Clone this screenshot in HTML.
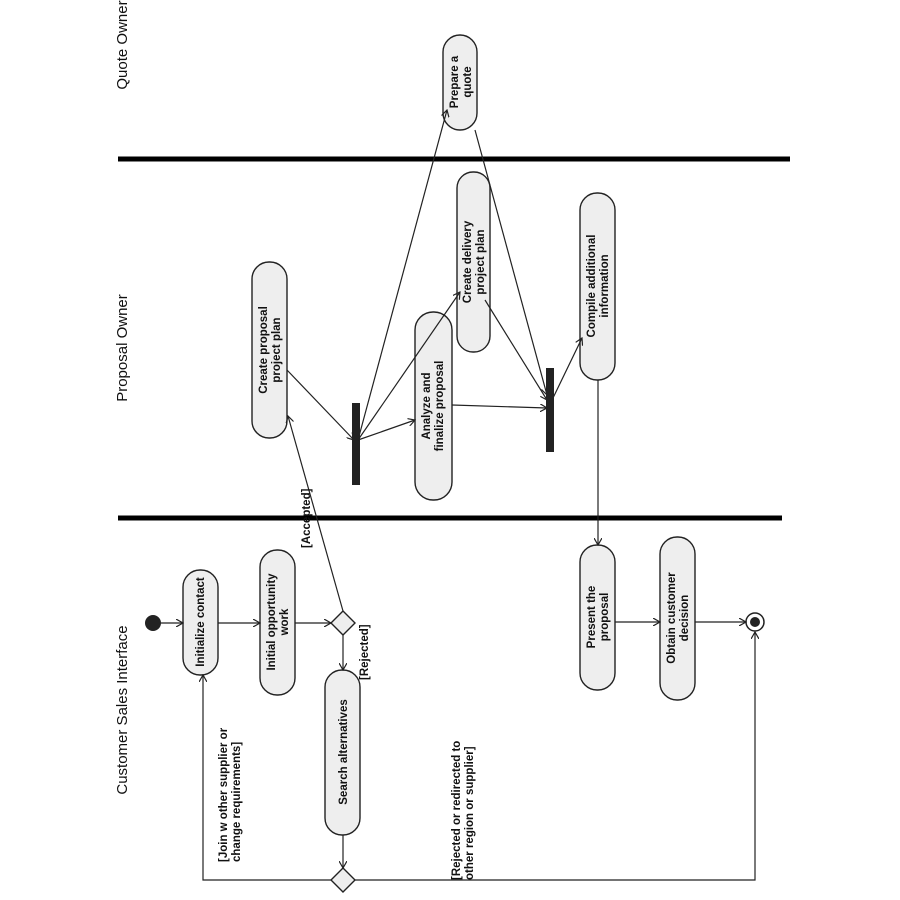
<!DOCTYPE html>
<html><head><meta charset="utf-8"><style>html,body{margin:0;background:#fff}svg{display:block}</style></head><body>
<svg width="900" height="900" viewBox="0 0 900 900" xmlns="http://www.w3.org/2000/svg" font-family="Liberation Sans, sans-serif">
<defs><marker id="a" markerWidth="8" markerHeight="8" refX="7" refY="4" orient="auto" markerUnits="userSpaceOnUse"><path d="M0,0 L7,4 L0,8" fill="none" stroke="#222" stroke-width="1.2"/></marker></defs>
<g stroke="#000" stroke-width="5"><line x1="118" y1="159" x2="790" y2="159"/><line x1="118" y1="518" x2="782" y2="518"/></g>
<g font-size="15" fill="#111">
<text transform="translate(127,45) rotate(-90)" text-anchor="middle">Quote Owner</text>
<text transform="translate(127,348) rotate(-90)" text-anchor="middle">Proposal Owner</text>
<text transform="translate(127,710) rotate(-90)" text-anchor="middle">Customer Sales Interface</text>
</g>
<g fill="#eee" stroke="#222" stroke-width="1.4">
<rect x="183" y="570" width="35" height="105" rx="17"/>
<rect x="260" y="550" width="35" height="145" rx="17"/>
<rect x="325" y="670" width="35" height="165" rx="17"/>
<rect x="252" y="262" width="35" height="176" rx="17"/>
<rect x="415" y="312" width="37" height="188" rx="18"/>
<rect x="457" y="172" width="33" height="180" rx="16"/>
<rect x="443" y="35" width="34" height="95" rx="17"/>
<rect x="580" y="193" width="35" height="187" rx="17"/>
<rect x="580" y="545" width="35" height="145" rx="17"/>
<rect x="660" y="537" width="35" height="163" rx="17"/>
<polygon points="343,611 355,623 343,635 331,623"/>
<polygon points="343,868 355,880 343,892 331,880"/>
</g>
<g fill="#222"><rect x="352" y="403" width="8" height="82"/><rect x="546" y="368" width="8" height="84"/>
<circle cx="153" cy="623" r="8"/><circle cx="755" cy="622" r="5"/></g>
<circle cx="755" cy="622" r="9" fill="none" stroke="#222" stroke-width="1.5"/>
<g stroke="#222" stroke-width="1.2" fill="none" marker-end="url(#a)">
<line x1="161" y1="623" x2="183" y2="623"/>
<line x1="218" y1="623" x2="260" y2="623"/>
<line x1="295" y1="623" x2="331" y2="623"/>
<line x1="343" y1="611" x2="288" y2="416"/>
<line x1="343" y1="635" x2="343" y2="670"/>
<line x1="343" y1="835" x2="343" y2="868"/>
<polyline points="331,880 203,880 203,675"/>
<polyline points="355,880 755,880 755,632"/>
<line x1="287" y1="370" x2="354" y2="440"/>
<line x1="358" y1="440" x2="415" y2="420"/>
<line x1="358" y1="440" x2="460" y2="292"/>
<line x1="358" y1="440" x2="447" y2="110"/>
<line x1="452" y1="405" x2="547" y2="408"/>
<line x1="485" y1="300" x2="547" y2="400"/>
<line x1="475" y1="130" x2="547" y2="395"/>
<line x1="553" y1="398" x2="582" y2="338"/>
<line x1="598" y1="380" x2="598" y2="545"/>
<line x1="615" y1="622" x2="660" y2="622"/>
<line x1="695" y1="622" x2="746" y2="622"/>
</g>
<g font-size="11.5" font-weight="bold" fill="#111" text-anchor="middle">
<text transform="translate(204,622) rotate(-90)">Initialize contact</text>
<text transform="translate(275,622) rotate(-90)">Initial opportunity</text>
<text transform="translate(288,622) rotate(-90)">work</text>
<text transform="translate(347,752) rotate(-90)">Search alternatives</text>
<text transform="translate(267,350) rotate(-90)">Create proposal</text>
<text transform="translate(280,350) rotate(-90)">project plan</text>
<text transform="translate(430,406) rotate(-90)">Analyze and</text>
<text transform="translate(443,406) rotate(-90)">finalize proposal</text>
<text transform="translate(471,262) rotate(-90)">Create delivery</text>
<text transform="translate(484,262) rotate(-90)">project plan</text>
<text transform="translate(458,82) rotate(-90)">Prepare a</text>
<text transform="translate(471,82) rotate(-90)">quote</text>
<text transform="translate(595,286) rotate(-90)">Compile additional</text>
<text transform="translate(608,286) rotate(-90)">information</text>
<text transform="translate(595,617) rotate(-90)">Present the</text>
<text transform="translate(608,617) rotate(-90)">proposal</text>
<text transform="translate(675,618) rotate(-90)">Obtain customer</text>
<text transform="translate(688,618) rotate(-90)">decision</text>
</g>
<g font-size="11.5" font-weight="bold" fill="#111">
<text transform="translate(310,548) rotate(-90)">[Accepted]</text>
<text transform="translate(368,680) rotate(-90)">[Rejected]</text>
<text transform="translate(227,862) rotate(-90)">[Join w other supplier or</text>
<text transform="translate(240,862) rotate(-90)">change requirements]</text>
<text transform="translate(460,880) rotate(-90)">[Rejected or redirected to</text>
<text transform="translate(473,880) rotate(-90)">other region or supplier]</text>
</g>
</svg>
</body></html>
